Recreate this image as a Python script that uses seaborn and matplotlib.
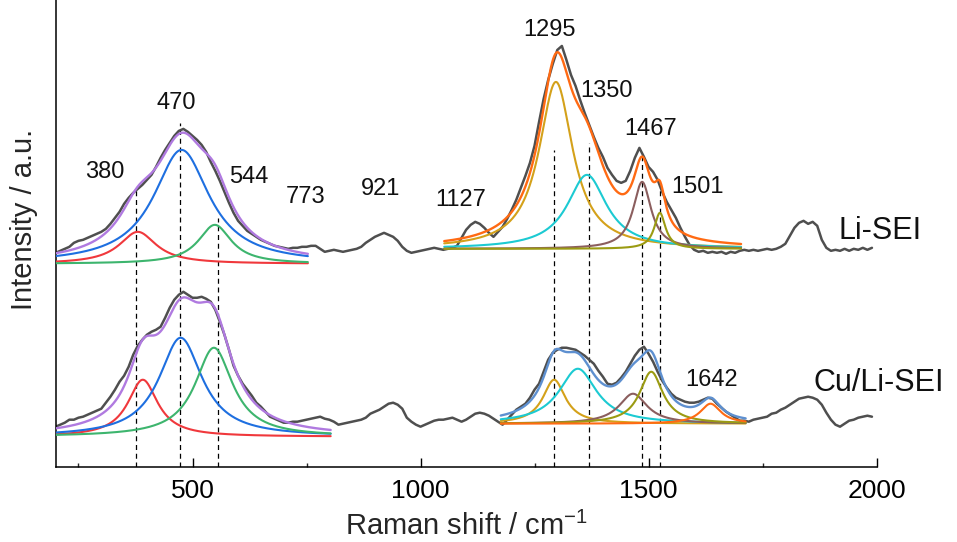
import numpy as np
import pandas as pd
import matplotlib
matplotlib.use("Agg")
import matplotlib.pyplot as plt
import seaborn as sns

# ---------------- data ----------------
wavenumber = list(range(200, 2000, 10))

li_sei = [
    214, 216, 218, 220, 224, 226, 227, 229, 231, 233,
    235, 238, 243, 249, 255, 263, 269, 274, 278, 282,
    287, 292, 300, 309, 317, 324, 331, 336, 338, 335,
    331, 327, 322, 315, 305, 296, 286, 275, 264, 254,
    246, 241, 236, 233, 230, 227, 225, 223, 221, 220,
    219, 218, 219, 219, 220, 220, 221, 221, 218, 215,
    216, 217, 216, 215, 216, 217, 218, 220, 224, 227,
    230, 232, 234, 232, 230, 226, 220, 216, 214, 215,
    216, 217, 218, 219, 218, 217, 218, 219, 221, 229,
    237, 242, 245, 243, 239, 234, 230, 235, 240, 248,
    257, 267, 279, 291, 304, 321, 345, 368, 387, 403,
    417, 421, 407, 392, 381, 367, 354, 342, 330, 319,
    310, 299, 292, 286, 284, 286, 296, 309, 319, 310,
    300, 295, 287, 275, 265, 257, 249, 239, 230, 222,
    217, 215, 216, 214, 215, 214, 215, 213, 215, 214,
    216, 217, 216, 217, 216, 217, 218, 217, 218, 220,
    223, 231, 239, 244, 246, 243, 245, 241, 227, 219,
    216, 217, 216, 218, 216, 218, 217, 219, 217, 219,
]

cu_li_sei = [
    40, 42, 44, 47, 47, 49, 50, 52, 54, 56,
    58, 64, 70, 77, 85, 91, 100, 112, 121, 127,
    132, 135, 137, 140, 149, 159, 167, 172, 175, 172,
    169, 169, 170, 168, 165, 157, 145, 132, 117, 101,
    91, 83, 77, 71, 64, 60, 55, 50, 48, 46,
    44, 44, 45, 45, 46, 47, 48, 49, 50, 48,
    47, 45, 42, 43, 44, 45, 46, 47, 49, 53,
    55, 57, 60, 63, 64, 62, 58, 49, 45, 42,
    40, 42, 44, 46, 47, 47, 48, 49, 47, 45,
    47, 50, 53, 54, 53, 51, 48, 45, 42, 47,
    52, 57, 60, 63, 69, 77, 83, 95, 107, 114,
    117, 119, 119, 118, 117, 114, 111, 107, 103, 96,
    90, 83, 82, 84, 89, 95, 103, 111, 117, 120,
    113, 105, 95, 86, 79, 73, 69, 67, 65, 64,
    64, 65, 67, 69, 68, 63, 59, 55, 52, 49,
    46, 46, 45, 47, 48, 49, 50, 53, 54, 57,
    59, 62, 65, 68, 69, 70, 69, 67, 62, 54,
    47, 42, 40, 43, 46, 47, 49, 50, 51, 50,
]

# Lorentzian fit components (center cm-1, height, FWHM cm-1)
li_low_center = [380, 476, 549]
li_low_height = [32, 114, 39]
li_low_fwhm = [99, 149, 88]
li_low_base = 203
li_low_range = [200, 753]

li_high_center = [1297, 1365, 1486, 1525]
li_high_height = [167, 74, 67, 36]
li_high_fwhm = [90, 105, 48, 30]
li_high_base = 218
li_high_range = [1052, 1703]

cu_low_center = [391, 474, 547]
cu_low_height = [57, 99, 89]
cu_low_fwhm = [80, 115, 100]
cu_low_base = 30
cu_low_range = [200, 803]

cu_high_center = [1293, 1345, 1466, 1506, 1636]
cu_high_height = [44, 55, 30, 52, 20]
cu_high_fwhm = [60, 100, 75, 62, 55]
cu_high_base = 43
cu_high_range = [1176, 1713]

# dashed reference lines (cm-1) and their upper ends
ref_lines = [377, 472, 555, 1293, 1370, 1486, 1525]
ref_tops = [277, 344, 249, 317, 324, 314, 280]

peak_labels = ["380", "470", "544", "773", "921", "1127", "1295",
               "1350", "1467", "1501", "1642"]
series_labels = ["Li-SEI", "Cu/Li-SEI"]

# ---------------- style ----------------
sns.set_theme(style="ticks")
plt.rcParams["font.family"] = ["Liberation Sans", "DejaVu Sans"]
plt.rcParams["mathtext.fontset"] = "custom"
plt.rcParams["mathtext.rm"] = "Liberation Sans"
plt.rcParams["mathtext.it"] = "Liberation Sans"

C_SPEC = "#4f4f4f"
C_LOW = ["#F0383C", "#1E6FE0", "#3DB56E"]
C_LOW_SUM = "#B07AE0"
C_HIGH = ["#D4A11A", "#1CCAD2", "#8B5E5E", "#9B9B12", "#FF6A13"]
C_LI_HIGH_SUM = "#FF6A13"
C_CU_HIGH_SUM = "#5E90D0"

fig = plt.figure(figsize=(9.57, 5.42), dpi=100)
ax = fig.add_axes([0.0582, 0.139, 0.8577, 0.861])


def lorentz(x, c, h, w):
    return h / (1.0 + ((x - c) / (w / 2.0)) ** 2)


# dashed lines (behind everything)
ax.vlines(ref_lines, 0, ref_tops, colors="black", linestyles=(0, (4, 3)),
          linewidth=0.9, zorder=1)

df = pd.DataFrame({"x": wavenumber, "li": li_sei, "cu": cu_li_sei})
sns.lineplot(data=df, x="x", y="li", ax=ax, color=C_SPEC, linewidth=1.8,
             sort=False, estimator=None, zorder=2)
sns.lineplot(data=df, x="x", y="cu", ax=ax, color=C_SPEC, linewidth=1.8,
             sort=False, estimator=None, zorder=2)


def draw_fit(centers, heights, fwhms, base, rng, colors, sum_color):
    x = np.linspace(rng[0], rng[1], 600)
    total = np.full_like(x, float(base))
    for c, h, w, col in zip(centers, heights, fwhms, colors):
        comp = lorentz(x, c, h, w)
        total += comp
        sns.lineplot(x=x, y=base + comp, ax=ax, color=col, linewidth=1.5,
                     sort=False, estimator=None, zorder=3)
    sns.lineplot(x=x, y=total, ax=ax, color=sum_color, linewidth=1.7,
                 sort=False, estimator=None, zorder=4)


draw_fit(li_low_center, li_low_height, li_low_fwhm, li_low_base, li_low_range,
         C_LOW, C_LOW_SUM)
draw_fit(cu_low_center, cu_low_height, cu_low_fwhm, cu_low_base, cu_low_range,
         C_LOW, C_LOW_SUM)
draw_fit(li_high_center, li_high_height, li_high_fwhm, li_high_base,
         li_high_range, C_HIGH[:4], C_LI_HIGH_SUM)
draw_fit(cu_high_center, cu_high_height, cu_high_fwhm, cu_high_base,
         cu_high_range, C_HIGH, C_CU_HIGH_SUM)

# annotations
label_pos = [(308, 295), (464, 364), (624, 290), (747, 270), (912, 278),
             (1089, 267), (1283, 437), (1408, 376), (1504, 338), (1607, 280),
             (1638, 87)]
for txt, (x, y) in zip(peak_labels, label_pos):
    ax.text(x, y, txt, fontsize=17, ha="center", va="center", color="#111111")
series_pos = [(2007, 236), (2005, 84)]
for txt, (x, y) in zip(series_labels, series_pos):
    ax.text(x, y, txt, fontsize=22, ha="center", va="center", color="#111111",
            clip_on=False)

ax.set_xlim(200, 2000)
ax.set_ylim(0, 467)
ax.set_xticks([500, 1000, 1500, 2000])
ax.set_xticks([250, 750, 1250, 1750], minor=True)
ax.set_yticks([])
ax.tick_params(axis="x", which="major", direction="in", length=6.5, width=1.0,
               labelsize=19, pad=9, colors="black")
ax.tick_params(axis="x", which="minor", direction="in", length=3.2, width=1.0)
for s in ["top", "right"]:
    ax.spines[s].set_visible(False)
for s in ["left", "bottom"]:
    ax.spines[s].set_linewidth(1.1)
    ax.spines[s].set_color("black")

ax.set_xlabel("Raman shift / cm$^{-1}$", fontsize=21, labelpad=6)
ax.set_ylabel("Intensity / a.u.", fontsize=21)
ax.yaxis.set_label_coords(-0.021, 0.53)

fig.savefig("out.png", dpi=100)
